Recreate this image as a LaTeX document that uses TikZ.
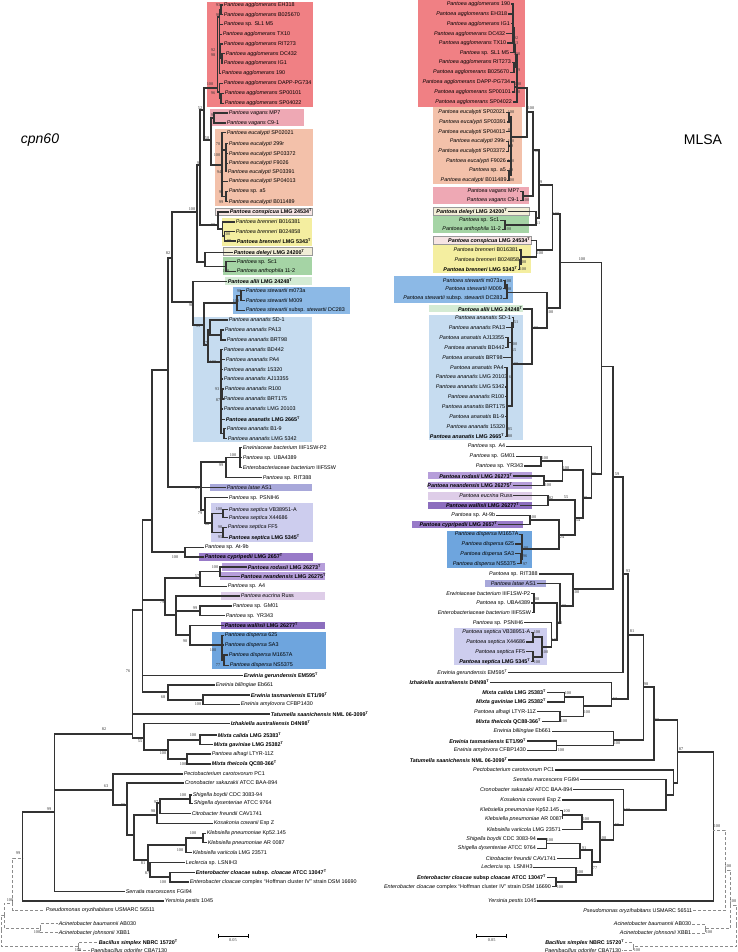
\documentclass[tikz,border=0pt]{standalone}
\usepackage{fontspec}
\setmainfont{Liberation Sans}
\newfontfamily\svfont{Liberation Serif}
\newcommand{\ts}{\textsuperscript{T}}
\newcommand{\Pag}{\textit{Pantoea agglomerans}}
\newcommand{\Pva}{\textit{Pantoea vagans}}
\newcommand{\Peu}{\textit{Pantoea eucalypti}}
\newcommand{\Pbr}{\textit{Pantoea brenneri}}
\newcommand{\Pst}{\textit{Pantoea stewartii}}
\newcommand{\Pan}{\textit{Pantoea ananatis}}
\newcommand{\Pse}{\textit{Pantoea septica}}
\newcommand{\Pdi}{\textit{Pantoea dispersa}}
\newcommand{\Psp}{\textit{Pantoea} sp.}
\newcounter{svc}
\newcommand{\sv}[2]{\stepcounter{svc}\node[sv] (sv\arabic{svc}) at (#1) {#2};}
\definecolor{cAgg}{RGB}{240,128,132}
\definecolor{cVag}{RGB}{238,168,180}
\definecolor{cEuc}{RGB}{243,193,170}
\definecolor{cCon}{RGB}{246,228,228}
\definecolor{cBre}{RGB}{244,238,160}
\definecolor{cDel}{RGB}{242,238,215}
\definecolor{cAnt}{RGB}{165,212,165}
\definecolor{cAll}{RGB}{212,235,212}
\definecolor{cSte}{RGB}{140,185,230}
\definecolor{cAna}{RGB}{198,220,240}
\definecolor{cLat}{RGB}{168,168,218}
\definecolor{cSep}{RGB}{205,205,238}
\definecolor{cCyp}{RGB}{152,122,200}
\definecolor{cRod}{RGB}{182,158,218}
\definecolor{cEcr}{RGB}{222,205,232}
\definecolor{cWal}{RGB}{140,110,190}
\definecolor{cDis}{RGB}{110,165,222}

\begin{document}
\begin{tikzpicture}[x=1pt,y=-1pt]
    \tikzset{
        lf/.style={anchor=west, inner sep=0.6pt, font=\fontsize{5.4}{6}\selectfont},
        rf/.style={anchor=east, inner sep=0.6pt, font=\fontsize{5.4}{6}\selectfont},
        tb/.style={font=\fontsize{5.4}{6}\selectfont\bfseries},
        br/.style={draw=black!80, line width=1.1pt},
        og/.style={draw=black!45, line width=0.8pt, dash pattern=on 3pt off 2pt},
        sv/.style={inner sep=0pt, font=\svfont\fontsize{4.3}{5}\selectfont, text=black!80},
        bxl/.style={draw=black!40, line width=0.4pt},
        ttl/.style={font=\fontsize{14}{16}\selectfont},
    }
    \useasboundingbox (0,0) rectangle (738,952);

    % Boxes, cpn60
    \fill[cAgg] (207,2) rectangle (313,107);
    \fill[cVag] (210,109) rectangle (304,126);
    \fill[cEuc] (215,129) rectangle (313,206);
    \filldraw[cCon,bxl] (215,208) rectangle (312,215.5);
    \fill[cBre] (222,218) rectangle (312,246);
    \filldraw[cDel,bxl] (223,247.5) rectangle (312,255.5);
    \fill[cAnt] (223,257) rectangle (312,275);
    \fill[cAll] (225,277) rectangle (312,285);
    \fill[cSte] (233,287) rectangle (350,314);
    \fill[cAna] (193,316.7) rectangle (312,441.7);
    \fill[cLat] (210,484) rectangle (312,491);
    \fill[cSep] (211,503) rectangle (313,541.7);
    \fill[cCyp] (199,553) rectangle (313,560.5);
    \fill[cRod] (222,563) rectangle (325,570.5);
    \fill[cRod] (220,572) rectangle (325,580);
    \fill[cEcr] (221,592) rectangle (325,600);
    \fill[cWal] (221,621.7) rectangle (325,629);
    \fill[cDis] (212,631.7) rectangle (326,669);

    % Boxes, MLSA
    \fill[cAgg] (417.7,0) rectangle (525,106.7);
    \fill[cEuc] (433,107.3) rectangle (521.7,184.3);
    \fill[cVag] (433,186.7) rectangle (529,204);
    \filldraw[cDel,bxl] (433,206.7) rectangle (529,215);
    \fill[cAnt] (433,216) rectangle (529,233.3);
    \filldraw[cCon,bxl] (433,236) rectangle (530.7,244.3);
    \fill[cBre] (433,245) rectangle (530.7,273.3);
    \fill[cSte] (394,276) rectangle (512.7,302.7);
    \fill[cAll] (429,305) rectangle (523.3,312.3);
    \fill[cAna] (429,315) rectangle (523.3,440);
    \fill[cRod] (428.3,472.3) rectangle (531.7,479.3);
    \fill[cRod] (428.3,481.7) rectangle (531.7,489.3);
    \fill[cEcr] (428.3,491.7) rectangle (531.7,500);
    \fill[cWal] (428.3,502.3) rectangle (531.7,509);
    \fill[cCyp] (411.7,521) rectangle (522.7,528.3);
    \fill[cDis] (446.7,530.7) rectangle (531.7,567.7);
    \fill[cLat] (485,580) rectangle (546,587);
    \fill[cSep] (454,628.3) rectangle (546.7,665.3);

    % Titles
    \node[ttl] (tcpn) at (40,140) {\textit{cpn60}};
    \node[ttl] (tmlsa) at (703,140) {MLSA};

    % Leaves, cpn60
    \node[lf] (L1) at (223,5) {\Pag{} EH318};
    \node[lf] (L2) at (223,14.7) {\Pag{} B025670};
    \node[lf] (L3) at (223,24.3) {\Psp{} SL1 M5};
    \node[lf] (L4) at (222,34.3) {\Pag{} TX10};
    \node[lf] (L5) at (223,44) {\Pag{} RIT273};
    \node[lf] (L6) at (225,53.7) {\Pag{} DC432};
    \node[lf] (L7) at (223,63.3) {\Pag{} IG1};
    \node[lf] (L8) at (221,73.3) {\Pag{} 190};
    \node[lf] (L9) at (223,83.3) {\Pag{} DAPP-PG734};
    \node[lf] (L10) at (224,93.3) {\Pag{} SP00101};
    \node[lf] (L11) at (224,103.3) {\Pag{} SP04022};
    \node[lf] (L12) at (228,113) {\Pva{} MP7};
    \node[lf] (L13) at (226,123) {\Pva{} C9-1};
    \node[lf] (L14) at (226,132.7) {\Peu{} SP02021};
    \node[lf] (L15) at (228,143.7) {\Peu{} 299r};
    \node[lf] (L16) at (228,153.7) {\Peu{} SP03372};
    \node[lf] (L17) at (228,163.3) {\Peu{} F9026};
    \node[lf] (L18) at (227,171.7) {\Peu{} SP03391};
    \node[lf] (L19) at (228,181.3) {\Peu{} SP04013};
    \node[lf] (L20) at (228,191.7) {\Psp{} a5};
    \node[lf] (L21) at (228,201.7) {\Peu{} B011489};
    \node[lf,tb] (L22) at (229,212) {\textit{Pantoea conspicua} LMG 24534\ts};
    \node[lf] (L23) at (235,222) {\Pbr{} B016381};
    \node[lf] (L24) at (235,231.3) {\Pbr{} B024858};
    \node[lf,tb] (L25) at (236,241) {\Pbr{} LMG 5343\ts};
    \node[lf,tb] (L26) at (233,252.3) {\textit{Pantoea deleyi} LMG 24200\ts};
    \node[lf] (L27) at (236,261.7) {\Psp{} Sc1};
    \node[lf] (L28) at (236,271.3) {\textit{Pantoea anthophila} 11-2};
    \node[lf,tb] (L29) at (227,281.7) {\textit{Pantoea allii} LMG 24248\ts};
    \node[lf] (L30) at (245,290.7) {\Pst{} m073a};
    \node[lf] (L31) at (245,300.7) {\Pst{} M009};
    \node[lf] (L32) at (245,310.3) {\Pst{} subsp. \textit{stewartii} DC283};
    \node[lf] (L33) at (228,320) {\Pan{} SD-1};
    \node[lf] (L34) at (224,330) {\Pan{} PA13};
    \node[lf] (L35) at (226,340) {\Pan{} BRT98};
    \node[lf] (L36) at (223,349.7) {\Pan{} BD442};
    \node[lf] (L37) at (225,359.3) {\Pan{} PA4};
    \node[lf] (L38) at (223,369.3) {\Pan{} 15320};
    \node[lf] (L39) at (223,379) {\Pan{} AJ13355};
    \node[lf] (L40) at (224,389) {\Pan{} R100};
    \node[lf] (L41) at (223,399) {\Pan{} BRT175};
    \node[lf] (L42) at (223,409) {\Pan{} LMG 20103};
    \node[lf,tb] (L43) at (225,419.3) {\Pan{} LMG 2665\ts};
    \node[lf] (L44) at (226,428.7) {\Pan{} B1-9};
    \node[lf] (L45) at (227,438.3) {\Pan{} LMG 5342};
    \node[lf] (L46) at (242,447.7) {\textit{Erwiniaceae bacterium} IIIF1SW-P2};
    \node[lf] (L47) at (242,457.7) {\Psp{} UBA4389};
    \node[lf] (L48) at (242,467.7) {\textit{Enterobacteriaceae bacterium} IIIF5SW};
    \node[lf] (L49) at (262,477.7) {\Psp{} RIT388};
    \node[lf] (L50) at (226,487.3) {\textit{Pantoea latae} AS1};
    \node[lf] (L51) at (228,497.7) {\Psp{} PSNIH6};
    \node[lf] (L52) at (228,509.7) {\Pse{} VB38951-A};
    \node[lf] (L53) at (228,517.7) {\Pse{} X44686};
    \node[lf] (L54) at (227,527.3) {\Pse{} FF5};
    \node[lf,tb] (L55) at (228,537.3) {\Pse{} LMG 5345\ts};
    \node[lf] (L56) at (204,547.3) {\Psp{} At-9b};
    \node[lf,tb] (L57) at (204,557) {\textit{Pantoea cypripedii} LMG 2657\ts};
    \node[lf,tb] (L58) at (247,567) {\textit{Pantoea rodasii} LMG 26273\ts};
    \node[lf,tb] (L59) at (240,576.3) {\textit{Pantoea rwandensis} LMG 26275\ts};
    \node[lf] (L60) at (227,586.3) {\Psp{} A4};
    \node[lf] (L61) at (240,596) {\textit{Pantoea eucrina} Russ};
    \node[lf] (L62) at (232,606) {\Psp{} GM01};
    \node[lf] (L63) at (225,615.7) {\Psp{} YR343};
    \node[lf,tb] (L64) at (224,625.3) {\textit{Pantoea wallisii} LMG 26277\ts};
    \node[lf] (L65) at (224,635.3) {\Pdi{} 625};
    \node[lf] (L66) at (224,645) {\Pdi{} SA3};
    \node[lf] (L67) at (228,655) {\Pdi{} M1657A};
    \node[lf] (L68) at (229,665.3) {\Pdi{} NS5375};
    \node[lf,tb] (L69) at (243,675.3) {\textit{Erwinia gerundensis} EM595\ts};
    \node[lf] (L70) at (215,685) {\textit{Erwinia billingiae} Eb661};
    \node[lf,tb] (L71) at (250,695) {\textit{Erwinia tasmaniensis} ET1/99\ts};
    \node[lf] (L72) at (240,704.3) {\textit{Erwinia amylovora} CFBP1430};
    \node[lf,tb] (L73) at (270,714) {\textit{Tatumella saanichensis} NML 06-3099\ts};
    \node[lf,tb] (L74) at (230,723.3) {\textit{Izhakiella australiensis} D4N98\ts};
    \node[lf,tb] (L75) at (217,735) {\textit{Mixta calida} LMG 25383\ts};
    \node[lf,tb] (L76) at (213,744.3) {\textit{Mixta gaviniae} LMG 25382\ts};
    \node[lf] (L77) at (211,754) {\textit{Pantoea alhagi} LTYR-11Z};
    \node[lf,tb] (L78) at (211,764) {\textit{Mixta theicola} QC88-366\ts};
    \node[lf] (L79) at (183,774) {\textit{Pectobacterium carotovorum} PC1};
    \node[lf] (L80) at (184,783) {\textit{Cronobacter sakazakii} ATCC BAA-894};
    \node[lf] (L81) at (192,795) {\textit{Shigella boydii} CDC 3083-94};
    \node[lf] (L82) at (193,803.3) {\textit{Shigella dysenteriae} ATCC 9764};
    \node[lf] (L83) at (191,813.3) {\textit{Citrobacter freundii} CAV1741};
    \node[lf] (L84) at (213,823.3) {\textit{Kosakonia cowanii} Esp Z};
    \node[lf] (L85) at (206,833.3) {\textit{Klebsiella pneumoniae} Kp52.145};
    \node[lf] (L86) at (207,842.7) {\textit{Klebsiella pneumoniae} AR 0087};
    \node[lf] (L87) at (192,852.7) {\textit{Klebsiella variicola} LMG 23571};
    \node[lf] (L88) at (185,862.7) {\textit{Leclercia} sp. LSNIH3};
    \node[lf,tb] (L89) at (195,872.3) {\textit{Enterobacter cloacae} subsp. \textit{cloacae} ATCC 13047\ts};
    \node[lf] (L90) at (189,882) {\textit{Enterobacter cloacae} complex ``Hoffman cluster IV'' strain DSM 16690};
    \node[lf] (L91) at (125,891.3) {\textit{Serratia marcescens} FGI94};
    \node[lf] (L92) at (164,901) {\textit{Yersinia pestis} 1045};
    \node[lf] (L93) at (45,910.3) {\textit{Pseudomonas oryzihabitans} USMARC 56511};
    \node[lf] (L94) at (58,923.7) {\textit{Acinetobacter baumannii} AB030};
    \node[lf] (L95) at (58,932.7) {\textit{Acinetobacter johnsonii} XBB1};
    \node[lf,tb] (L96) at (98,942.3) {\textit{Bacillus simplex} NBRC 15720\ts};
    \node[lf] (L97) at (90,950.7) {\textit{Paenibacillus odorifer} CBA7130};

    % Inner nodes, cpn60
    \coordinate (ag1) at (221,10);
    \coordinate (ag2) at (219.5,17);
    \coordinate (ag3) at (222,58.5);
    \coordinate (ag3p) at (220.5,51);
    \coordinate (ag5) at (221,98);
    \coordinate (ag4) at (219.5,92);
    \coordinate (aggl) at (217.5,88);
    \coordinate (vag) at (214,118);
    \coordinate (eua) at (226,150);
    \coordinate (eub) at (226,196.5);
    \coordinate (eucal) at (222,165);
    \coordinate (VE) at (211,140);
    \coordinate (P52) at (204,110);
    \coordinate (brn2) at (224.5,236);
    \coordinate (brn) at (222.5,229);
    \coordinate (CB) at (218,225);
    \coordinate (P99) at (200,165);
    \coordinate (ant) at (226,266.5);
    \coordinate (Dl) at (205,262);
    \coordinate (P100) at (197,212);
    \coordinate (ste1) at (241,295.7);
    \coordinate (St) at (237,303);
    \coordinate (an1) at (221,335);
    \coordinate (an2) at (210,330);
    \coordinate (an3) at (222.5,394);
    \coordinate (an4) at (224,433.5);
    \coordinate (an5) at (221,362);
    \coordinate (anan) at (208,345);
    \coordinate (SA) at (204,325);
    \coordinate (P98) at (193,302);
    \coordinate (B1) at (172,258);
    \coordinate (E100) at (240,457.7);
    \coordinate (E99) at (226,462);
    \coordinate (se1) at (223,513.7);
    \coordinate (se2) at (223,532.3);
    \coordinate (S68) at (212,523);
    \coordinate (S79) at (205,510);
    \coordinate (N81) at (201,487);
    \coordinate (B2) at (168,370);
    \coordinate (C100) at (185,552);
    \coordinate (B3) at (152,520);
    \coordinate (rr100) at (220,571.7);
    \coordinate (R57) at (200,578);
    \coordinate (G99) at (200,611);
    \coordinate (di1) at (224,660);
    \coordinate (di2) at (222,645);
    \coordinate (W90) at (190,635);
    \coordinate (Xe) at (176,615);
    \coordinate (N79) at (165,600);
    \coordinate (ew100) at (203,700);
    \coordinate (ew68) at (168,692);
    \coordinate (N76) at (142.7,610);
    \coordinate (mxa) at (200,740);
    \coordinate (mxb) at (187,759);
    \coordinate (mix) at (168,750);
    \coordinate (m55) at (144,738);
    \coordinate (N82) at (132.7,734);
    \coordinate (sh) at (190,799);
    \coordinate (l97) at (160,803);
    \coordinate (l98) at (157,815);
    \coordinate (kl1) at (203,838);
    \coordinate (kl2) at (186,845);
    \coordinate (en) at (170,877);
    \coordinate (l87) at (150,870);
    \coordinate (l81) at (148,860);
    \coordinate (ent) at (134,835);
    \coordinate (l80) at (127,805);
    \coordinate (l63) at (113,790);
    \coordinate (lN) at (54.3,812);
    \coordinate (lroot) at (22.7,858);
    \coordinate (lo1) at (12.7,903);
    \coordinate (lac) at (40,928);
    \coordinate (lo2) at (4.3,915);
    \coordinate (lba) at (78,946);
    \coordinate (lo0) at (1,930);

    % Branches, cpn60
    \draw[br] (ag1) |- (L1) (ag1) |- (L2);
    \draw[br] (ag2) |- (ag1) (ag2) |- (L3) (ag2) |- (L4) (ag2) |- (ag3p) (ag2) |- (L8);
    \draw[br] (ag3p) |- (L5) (ag3p) |- (ag3);
    \draw[br] (ag3) |- (L6) (ag3) |- (L7);
    \draw[br] (ag5) |- (L10) (ag5) |- (L11);
    \draw[br] (ag4) |- (L9) (ag4) |- (ag5);
    \draw[br] (aggl) |- (ag2) (aggl) |- (ag4);
    \draw[br] (vag) |- (L12) (vag) |- (L13);
    \draw[br] (eua) |- (L15) (eua) |- (L16) (eua) |- (L17) (eua) |- (L18);
    \draw[br] (eub) |- (L20) (eub) |- (L21);
    \draw[br] (eucal) |- (L14) (eucal) |- (eua) (eucal) |- (L19) (eucal) |- (eub);
    \draw[br] (VE) |- (vag) (VE) |- (eucal);
    \draw[br] (P52) |- (aggl) (P52) |- (VE);
    \draw[br] (brn2) |- (L24) (brn2) |- (L25);
    \draw[br] (brn) |- (L23) (brn) |- (brn2);
    \draw[br] (CB) |- (L22) (CB) |- (brn);
    \draw[br] (P99) |- (P52) (P99) |- (CB);
    \draw[br] (ant) |- (L27) (ant) |- (L28);
    \draw[br] (Dl) |- (L26) (Dl) |- (ant);
    \draw[br] (P100) |- (P99) (P100) |- (Dl);
    \draw[br] (ste1) |- (L30) (ste1) |- (L31);
    \draw[br] (St) |- (ste1) (St) |- (L32);
    \draw[br] (an1) |- (L34) (an1) |- (L35);
    \draw[br] (an2) |- (L33) (an2) |- (an1);
    \draw[br] (an3) |- (L40) (an3) |- (L41);
    \draw[br] (an4) |- (L44) (an4) |- (L45);
    \draw[br] (an5) |- (L36) (an5) |- (L37) (an5) |- (L38) (an5) |- (L39) (an5) |- (an3) (an5) |- (L42) (an5) |- (L43) (an5) |- (an4);
    \draw[br] (anan) |- (an2) (anan) |- (an5);
    \draw[br] (SA) |- (St) (SA) |- (anan);
    \draw[br] (P98) |- (L29) (P98) |- (SA);
    \draw[br] (B1) |- (P100) (B1) |- (P98);
    \draw[br] (E100) |- (L46) (E100) |- (L47) (E100) |- (L48);
    \draw[br] (E99) |- (E100) (E99) |- (L49);
    \draw[br] (se1) |- (L52) (se1) |- (L53);
    \draw[br] (se2) |- (L54) (se2) |- (L55);
    \draw[br] (S68) |- (se1) (S68) |- (se2);
    \draw[br] (S79) |- (L51) (S79) |- (S68);
    \draw[br] (N81) |- (E99) (N81) |- (L50) (N81) |- (S79);
    \draw[br] (B2) |- (B1) (B2) |- (N81);
    \draw[br] (C100) |- (L56) (C100) |- (L57);
    \draw[br] (B3) |- (B2) (B3) |- (C100);
    \draw[br] (rr100) |- (L58) (rr100) |- (L59);
    \draw[br] (R57) |- (rr100) (R57) |- (L60);
    \draw[br] (G99) |- (L62) (G99) |- (L63);
    \draw[br] (di1) |- (L67) (di1) |- (L68);
    \draw[br] (di2) |- (L65) (di2) |- (L66) (di2) |- (di1);
    \draw[br] (W90) |- (L64) (W90) |- (di2);
    \draw[br] (Xe) |- (L61) (Xe) |- (G99) (Xe) |- (W90);
    \draw[br] (N79) |- (R57) (N79) |- (Xe);
    \draw[br] (ew100) |- (L71) (ew100) |- (L72);
    \draw[br] (ew68) |- (L70) (ew68) |- (ew100);
    \draw[br] (N76) |- (B3) (N76) |- (N79) (N76) |- (L69) (N76) |- (ew68);
    \draw[br] (mxa) |- (L75) (mxa) |- (L76);
    \draw[br] (mxb) |- (L77) (mxb) |- (L78);
    \draw[br] (mix) |- (mxa) (mix) |- (mxb);
    \draw[br] (m55) |- (L74) (m55) |- (mix);
    \draw[br] (N82) |- (N76) (N82) |- (L73) (N82) |- (m55);
    \draw[br] (sh) |- (L81) (sh) |- (L82);
    \draw[br] (l97) |- (sh) (l97) |- (L83);
    \draw[br] (l98) |- (l97) (l98) |- (L84);
    \draw[br] (kl1) |- (L85) (kl1) |- (L86);
    \draw[br] (kl2) |- (kl1) (kl2) |- (L87);
    \draw[br] (en) |- (L89) (en) |- (L90);
    \draw[br] (l87) |- (L88) (l87) |- (en);
    \draw[br] (l81) |- (kl2) (l81) |- (l87);
    \draw[br] (ent) |- (l98) (ent) |- (l81);
    \draw[br] (l80) |- (L80) (l80) |- (ent);
    \draw[br] (l63) |- (L79) (l63) |- (l80);
    \draw[br] (lN) |- (N82) (lN) |- (l63) (lN) |- (L91);
    \draw[br] (lroot) |- (lN) (lroot) |- (L92);
    \draw[og] (lo1) |- (lroot) (lo1) |- (L93);
    \draw[og] (lac) |- (L94) (lac) |- (L95);
    \draw[og] (lo2) |- (lo1) (lo2) |- (lac);
    \draw[og] (lba) |- (L96) (lba) |- (L97);
    \draw[og] (lo0) |- (lo2) (lo0) |- (lba);

    % Support values, cpn60
    \sv{218,5}{93} \sv{218,14.7}{98} \sv{213,50}{92} \sv{213,55}{98}
    \sv{210,84}{100} \sv{213,93}{96} \sv{200,108}{52} \sv{213,115}{95}
    \sv{207,138}{58} \sv{218,144}{70} \sv{217,155}{100} \sv{199,163}{99}
    \sv{219,172}{94} \sv{221,191.7}{95} \sv{221,201.7}{99} \sv{192,208.7}{100}
    \sv{213,225}{99} \sv{227,234}{100} \sv{229,241}{99} \sv{168,253}{82}
    \sv{226,271}{100} \sv{239,291}{98} \sv{236,300.7}{100} \sv{191,305}{98}
    \sv{198,325.7}{99} \sv{205,343}{87} \sv{213,362}{100} \sv{217,389}{93}
    \sv{218,400}{87} \sv{233,455}{100} \sv{221,465}{99} \sv{197,488}{81}
    \sv{200,513}{79} \sv{207,524}{68} \sv{219,509}{100} \sv{220,527}{98}
    \sv{220,537}{95} \sv{175,557}{100} \sv{215,567}{100} \sv{197,576}{57}
    \sv{162,601.7}{79} \sv{195,608}{99} \sv{185,641}{90} \sv{213,650}{100}
    \sv{218,665}{77} \sv{128,670.7}{76} \sv{163,697.3}{68} \sv{198,704}{100}
    \sv{104,729}{82} \sv{140,740.7}{55} \sv{193,735}{100} \sv{163,753.3}{100}
    \sv{183,764}{100} \sv{106,786}{63} \sv{123,805}{80} \sv{183,795}{100}
    \sv{156,802.3}{97} \sv{153,810.7}{98} \sv{49,809}{99} \sv{193,833}{100}
    \sv{180,850}{100} \sv{143,862.7}{81} \sv{147,873}{87} \sv{163,882}{100}
    \sv{18,853}{99} \sv{10,900}{100} \sv{37,932}{100} \sv{78,950}{100}

    % Leaves, MLSA
    \node[rf] (R1) at (511,4) {\Pag{} 190};
    \node[rf] (R2) at (508,14) {\Pag{} EH318};
    \node[rf] (R3) at (510.7,23.7) {\Pag{} IG1};
    \node[rf] (R4) at (506,33.7) {\Pag{} DC432};
    \node[rf] (R5) at (507,43) {\Pag{} TX10};
    \node[rf] (R6) at (510,52.7) {\Psp{} SL1 M5};
    \node[rf] (R7) at (511.7,62.3) {\Pag{} RIT273};
    \node[rf] (R8) at (510,72.3) {\Pag{} B025670};
    \node[rf] (R9) at (511,82) {\Pag{} DAPP-PG734};
    \node[rf] (R10) at (511.7,92) {\Pag{} SP00101};
    \node[rf] (R11) at (512.7,102) {\Pag{} SP04022};
    \node[rf] (R12) at (506,112.3) {\Peu{} SP02021};
    \node[rf] (R13) at (506.7,122) {\Peu{} SP03391};
    \node[rf] (R14) at (506,131.7) {\Peu{} SP04013};
    \node[rf] (R15) at (506,141.3) {\Peu{} 299r};
    \node[rf] (R16) at (506,151.3) {\Peu{} SP03372};
    \node[rf] (R17) at (506.7,161) {\Peu{} F9026};
    \node[rf] (R18) at (506.7,170.7) {\Psp{} a5};
    \node[rf] (R19) at (507.3,180.3) {\Peu{} B011489};
    \node[rf] (R20) at (520,191.5) {\Pva{} MP7};
    \node[rf] (R21) at (520,200.3) {\Pva{} C9-1};
    \node[rf,tb] (R22) at (508,211.3) {\textit{Pantoea deleyi} LMG 24200\ts};
    \node[rf] (R23) at (500,220.5) {\Psp{} Sc1};
    \node[rf] (R24) at (501.7,229.5) {\textit{Pantoea anthophila} 11-2};
    \node[rf,tb] (R25) at (531,240.3) {\textit{Pantoea conspicua} LMG 24534\ts};
    \node[rf] (R26) at (519,250) {\Pbr{} B016381};
    \node[rf] (R27) at (520,259.3) {\Pbr{} B024858};
    \node[rf,tb] (R28) at (518.3,269.3) {\Pbr{} LMG 5343\ts};
    \node[rf] (R29) at (503.3,280.7) {\Pst{} m073a};
    \node[rf] (R30) at (502.7,288.7) {\Pst{} M009};
    \node[rf] (R31) at (503.3,298.3) {\Pst{} subsp. \textit{stewartii} DC283};
    \node[rf,tb] (R32) at (523.3,309) {\textit{Pantoea allii} LMG 24248\ts};
    \node[rf] (R33) at (511.7,317.7) {\Pan{} SD-1};
    \node[rf] (R34) at (506,327.7) {\Pan{} PA13};
    \node[rf] (R35) at (505,337.7) {\Pan{} AJ13355};
    \node[rf] (R36) at (505.3,347.3) {\Pan{} BD442};
    \node[rf] (R37) at (503.3,357.3) {\Pan{} BRT98};
    \node[rf] (R38) at (504.3,367.3) {\Pan{} PA4};
    \node[rf] (R39) at (508.3,377) {\Pan{} LMG 20103};
    \node[rf] (R40) at (505.3,387) {\Pan{} LMG 5342};
    \node[rf] (R41) at (505,396.7) {\Pan{} R100};
    \node[rf] (R42) at (506,406.7) {\Pan{} BRT175};
    \node[rf] (R43) at (505,416.3) {\Pan{} B1-9};
    \node[rf] (R44) at (506,426.3) {\Pan{} 15320};
    \node[rf,tb] (R45) at (505,436.3) {\Pan{} LMG 2665\ts};
    \node[rf] (R46) at (506,446.3) {\Psp{} A4};
    \node[rf] (R47) at (516,456.3) {\Psp{} GM01};
    \node[rf] (R48) at (524,466) {\Psp{} YR343};
    \node[rf,tb] (R49) at (513.3,476) {\textit{Pantoea rodasii} LMG 26273\ts};
    \node[rf,tb] (R50) at (513.3,485.7) {\textit{Pantoea rwandensis} LMG 26275\ts};
    \node[rf] (R51) at (513.3,495.3) {\textit{Pantoea eucrina} Russ};
    \node[rf,tb] (R52) at (520,505.7) {\textit{Pantoea wallisii} LMG 26277\ts};
    \node[rf] (R53) at (496,515.3) {\Psp{} At-9b};
    \node[rf,tb] (R54) at (498.3,524.7) {\textit{Pantoea cypripedii} LMG 2657\ts};
    \node[rf] (R55) at (519.3,534.3) {\Pdi{} M1657A};
    \node[rf] (R56) at (515,544) {\Pdi{} 625};
    \node[rf] (R57) at (515,553.7) {\Pdi{} SA3};
    \node[rf] (R58) at (516.7,563.7) {\Pdi{} NS5375};
    \node[rf] (R59) at (538.5,574) {\Psp{} RIT388};
    \node[rf] (R60) at (536.7,583.7) {\textit{Pantoea latae} AS1};
    \node[rf] (R61) at (531,593.3) {\textit{Erwiniaceae bacterium} IIIF1SW-P2};
    \node[rf] (R62) at (531,603) {\Psp{} UBA4389};
    \node[rf] (R63) at (531.7,612.7) {\textit{Enterobacteriaceae bacterium} IIIF5SW};
    \node[rf] (R64) at (524,622.7) {\Psp{} PSNIH6};
    \node[rf] (R65) at (531,632.3) {\Pse{} VB38951-A};
    \node[rf] (R66) at (526,642) {\Pse{} X44686};
    \node[rf] (R67) at (526,651.7) {\Pse{} FF5};
    \node[rf,tb] (R68) at (531,661.7) {\Pse{} LMG 5345\ts};
    \node[rf] (R69) at (508.3,672.3) {\textit{Erwinia gerundensis} EM595\ts};
    \node[rf,tb] (R70) at (490,682.7) {\textit{Izhakiella australiensis} D4N98\ts};
    \node[rf,tb] (R71) at (546.7,692.7) {\textit{Mixta calida} LMG 25383\ts};
    \node[rf,tb] (R72) at (546.7,702) {\textit{Mixta gaviniae} LMG 25382\ts};
    \node[rf] (R73) at (536.7,711.7) {\textit{Pantoea alhagi} LTYR-11Z};
    \node[rf,tb] (R74) at (541.7,721.3) {\textit{Mixta theicola} QC88-366\ts};
    \node[rf] (R75) at (551.7,731.3) {\textit{Erwinia billingiae} Eb661};
    \node[rf,tb] (R76) at (526.7,741) {\textit{Erwinia tasmaniensis} ET1/99\ts};
    \node[rf] (R77) at (526.7,750.3) {\textit{Erwinia amylovora} CFBP1430};
    \node[rf,tb] (R78) at (508.3,760) {\textit{Tatumella saanichensis} NML 06-3099\ts};
    \node[rf] (R79) at (555,770) {\textit{Pectobacterium carotovorum} PC1};
    \node[rf] (R80) at (580,779.3) {\textit{Serratia marcescens} FGI94};
    \node[rf] (R81) at (573.3,789.7) {\textit{Cronobacter sakazakii} ATCC BAA-894};
    \node[rf] (R82) at (561.7,800) {\textit{Kosakonia cowanii} Esp Z};
    \node[rf] (R83) at (560,810.3) {\textit{Klebsiella pneumoniae} Kp52.145};
    \node[rf] (R84) at (562.7,819.3) {\textit{Klebsiella pneumoniae} AR 0087};
    \node[rf] (R85) at (561.7,829.3) {\textit{Klebsiella variicola} LMG 23571};
    \node[rf] (R86) at (536.7,839) {\textit{Shigella boydii} CDC 3083-94};
    \node[rf] (R87) at (536.7,848.3) {\textit{Shigella dysenteriae} ATCC 9764};
    \node[rf] (R88) at (556.7,858.7) {\textit{Citrobacter freundii} CAV1741};
    \node[rf] (R89) at (533.3,867.3) {\textit{Leclercia} sp. LSNIH3};
    \node[rf,tb] (R90) at (546.7,877.7) {\textit{Enterobacter cloacae} subsp \textit{cloacae} ATCC 13047\ts};
    \node[rf] (R91) at (551.7,886.7) {\textit{Enterobacter cloacae} complex ``Hoffman cluster IV'' strain DSM 16690};
    \node[rf] (R92) at (537.3,901) {\textit{Yersinia pestis} 1045};
    \node[rf] (R93) at (693,910.7) {\textit{Pseudomonas oryzihabitans} USMARC 56511};
    \node[rf] (R94) at (692,924) {\textit{Acinetobacter baumannii} AB030};
    \node[rf] (R95) at (692,933) {\textit{Acinetobacter johnsonii} XBB1};
    \node[rf,tb] (R96) at (625,942.3) {\textit{Bacillus simplex} NBRC 15720\ts};
    \node[rf] (R97) at (622,950.7) {\textit{Paenibacillus odorifer} CBA7130};

    % Inner nodes, MLSA
    \coordinate (ra1) at (513,28);
    \coordinate (ra2) at (514,45);
    \coordinate (ra3) at (514,67);
    \coordinate (ra4) at (515.5,55);
    \coordinate (ra5) at (514.5,87);
    \coordinate (ragg) at (517,88);
    \coordinate (re1) at (509,117);
    \coordinate (re2) at (508.5,146);
    \coordinate (re3) at (509,175.5);
    \coordinate (reu) at (511,137);
    \coordinate (rAE) at (527,112);
    \coordinate (rvag) at (523,196);
    \coordinate (rV) at (533,150);
    \coordinate (rsa) at (505,225);
    \coordinate (rDA) at (536,218);
    \coordinate (rVD) at (539,185);
    \coordinate (rbr2) at (519.5,264);
    \coordinate (rbr) at (521,257);
    \coordinate (rCB) at (536.7,250);
    \coordinate (rX2) at (552.7,214);
    \coordinate (rst1) at (505,284.7);
    \coordinate (rst) at (507,292.7);
    \coordinate (ran1) at (513.5,322.7);
    \coordinate (ran2) at (508,342.5);
    \coordinate (ran3) at (507,406);
    \coordinate (ran) at (512,364);
    \coordinate (rAA) at (532,328);
    \coordinate (rSAA) at (547,308);
    \coordinate (rX3) at (560,262.7);
    \coordinate (rG) at (541,461);
    \coordinate (rRR) at (544,481);
    \coordinate (rGRR) at (562.7,470);
    \coordinate (rEW) at (548,500);
    \coordinate (rC) at (530,520);
    \coordinate (rdis2) at (521,559);
    \coordinate (rdis) at (522,549);
    \coordinate (r24) at (559,535);
    \coordinate (r54) at (575,518);
    \coordinate (r89) at (583,498);
    \coordinate (r99) at (591.7,474);
    \coordinate (rU) at (601.7,366.7);
    \coordinate (rE) at (534,603);
    \coordinate (rs1) at (533,637);
    \coordinate (rs2) at (533,657);
    \coordinate (rsep) at (542,647);
    \coordinate (rP) at (551.7,640);
    \coordinate (r70) at (557,623);
    \coordinate (rL) at (560,606);
    \coordinate (rR) at (573,589);
    \coordinate (rW) at (613,477);
    \coordinate (r93) at (623,574);
    \coordinate (rMa) at (564.3,697);
    \coordinate (rMb) at (560,716.5);
    \coordinate (rMix) at (583.3,706);
    \coordinate (rM52) at (611.7,699);
    \coordinate (r629) at (628,635);
    \coordinate (rEr1) at (556.7,745.5);
    \coordinate (rEr) at (613.3,740);
    \coordinate (r98) at (643.3,687);
    \coordinate (r99b) at (654,720);
    \coordinate (rK1) at (562.7,815);
    \coordinate (rK2) at (582,822);
    \coordinate (rSh) at (546.7,843.7);
    \coordinate (rSC) at (580,850);
    \coordinate (rEn) at (556,882);
    \coordinate (rLE) at (576,875);
    \coordinate (r77) at (592,862);
    \coordinate (rKl) at (600,840);
    \coordinate (rKo) at (613.3,825);
    \coordinate (rCr) at (623.3,810);
    \coordinate (rSe) at (666,795);
    \coordinate (rPC) at (673.3,783);
    \coordinate (r87) at (677.7,752);
    \coordinate (rin) at (713.3,830);
    \coordinate (ro1) at (725,870);
    \coordinate (rac) at (705,928.5);
    \coordinate (ro2) at (730,905);
    \coordinate (rba) at (633,946.5);
    \coordinate (ro0) at (736,925);

    % Branches, MLSA
    \draw[br] (ra1) |- (R1) (ra1) |- (R2) (ra1) |- (R3) (ra1) |- (R4) (ra1) |- (R5);
    \draw[br] (ra2) |- (ra1) (ra2) |- (R6);
    \draw[br] (ra3) |- (R7) (ra3) |- (R8);
    \draw[br] (ra4) |- (ra2) (ra4) |- (ra3);
    \draw[br] (ra5) |- (R9) (ra5) |- (R10);
    \draw[br] (ragg) |- (ra4) (ragg) |- (ra5) (ragg) |- (R11);
    \draw[br] (re1) |- (R12) (re1) |- (R13);
    \draw[br] (re2) |- (R15) (re2) |- (R16);
    \draw[br] (re3) |- (R18) (re3) |- (R19);
    \draw[br] (reu) |- (re1) (reu) |- (R14) (reu) |- (re2) (reu) |- (R17) (reu) |- (re3);
    \draw[br] (rAE) |- (ragg) (rAE) |- (reu);
    \draw[br] (rvag) |- (R20) (rvag) |- (R21);
    \draw[br] (rV) |- (rAE) (rV) |- (rvag);
    \draw[br] (rsa) |- (R23) (rsa) |- (R24);
    \draw[br] (rDA) |- (R22) (rDA) |- (rsa);
    \draw[br] (rVD) |- (rV) (rVD) |- (rDA);
    \draw[br] (rbr2) |- (R27) (rbr2) |- (R28);
    \draw[br] (rbr) |- (R26) (rbr) |- (rbr2);
    \draw[br] (rCB) |- (R25) (rCB) |- (rbr);
    \draw[br] (rX2) |- (rVD) (rX2) |- (rCB);
    \draw[br] (rst1) |- (R29) (rst1) |- (R30);
    \draw[br] (rst) |- (rst1) (rst) |- (R31);
    \draw[br] (ran1) |- (R33) (ran1) |- (R34);
    \draw[br] (ran2) |- (R35) (ran2) |- (R36);
    \draw[br] (ran3) |- (R38) (ran3) |- (R39) (ran3) |- (R40) (ran3) |- (R41) (ran3) |- (R42) (ran3) |- (R43) (ran3) |- (R44) (ran3) |- (R45);
    \draw[br] (ran) |- (ran1) (ran) |- (ran2) (ran) |- (R37) (ran) |- (ran3);
    \draw[br] (rAA) |- (R32) (rAA) |- (ran);
    \draw[br] (rSAA) |- (rst) (rSAA) |- (rAA);
    \draw[br] (rX3) |- (rX2) (rX3) |- (rSAA);
    \draw[br] (rG) |- (R47) (rG) |- (R48);
    \draw[br] (rRR) |- (R49) (rRR) |- (R50);
    \draw[br] (rGRR) |- (rG) (rGRR) |- (rRR);
    \draw[br] (rEW) |- (R51) (rEW) |- (R52);
    \draw[br] (rC) |- (R53) (rC) |- (R54);
    \draw[br] (rdis2) |- (R57) (rdis2) |- (R58);
    \draw[br] (rdis) |- (R55) (rdis) |- (R56) (rdis) |- (rdis2);
    \draw[br] (r24) |- (rC) (r24) |- (rdis);
    \draw[br] (r54) |- (rEW) (r54) |- (r24);
    \draw[br] (r89) |- (rGRR) (r89) |- (r54);
    \draw[br] (r99) |- (R46) (r99) |- (r89);
    \draw[br] (rU) |- (rX3) (rU) |- (r99);
    \draw[br] (rE) |- (R61) (rE) |- (R62) (rE) |- (R63);
    \draw[br] (rs1) |- (R65) (rs1) |- (R66);
    \draw[br] (rs2) |- (R67) (rs2) |- (R68);
    \draw[br] (rsep) |- (rs1) (rsep) |- (rs2);
    \draw[br] (rP) |- (R64) (rP) |- (rsep);
    \draw[br] (r70) |- (rE) (r70) |- (rP);
    \draw[br] (rL) |- (R60) (rL) |- (r70);
    \draw[br] (rR) |- (R59) (rR) |- (rL);
    \draw[br] (rW) |- (rU) (rW) |- (rR);
    \draw[br] (r93) |- (rW) (r93) |- (R69);
    \draw[br] (rMa) |- (R71) (rMa) |- (R72);
    \draw[br] (rMb) |- (R73) (rMb) |- (R74);
    \draw[br] (rMix) |- (rMa) (rMix) |- (rMb);
    \draw[br] (rM52) |- (R70) (rM52) |- (rMix);
    \draw[br] (r629) |- (r93) (r629) |- (rM52);
    \draw[br] (rEr1) |- (R76) (rEr1) |- (R77);
    \draw[br] (rEr) |- (R75) (rEr) |- (rEr1);
    \draw[br] (r98) |- (r629) (r98) |- (rEr);
    \draw[br] (r99b) |- (r98) (r99b) |- (R78);
    \draw[br] (rK1) |- (R83) (rK1) |- (R84);
    \draw[br] (rK2) |- (rK1) (rK2) |- (R85);
    \draw[br] (rSh) |- (R86) (rSh) |- (R87);
    \draw[br] (rSC) |- (rSh) (rSC) |- (R88);
    \draw[br] (rEn) |- (R90) (rEn) |- (R91);
    \draw[br] (rLE) |- (R89) (rLE) |- (rEn);
    \draw[br] (r77) |- (rSC) (r77) |- (rLE);
    \draw[br] (rKl) |- (rK2) (rKl) |- (r77);
    \draw[br] (rKo) |- (R82) (rKo) |- (rKl);
    \draw[br] (rCr) |- (R81) (rCr) |- (rKo);
    \draw[br] (rSe) |- (R80) (rSe) |- (rCr);
    \draw[br] (rPC) |- (R79) (rPC) |- (rSe);
    \draw[br] (r87) |- (r99b) (r87) |- (rPC);
    \draw[br] (rin) |- (r87) (rin) |- (R92);
    \draw[og] (ro1) |- (rin) (ro1) |- (R93);
    \draw[og] (rac) |- (R94) (rac) |- (R95);
    \draw[og] (ro2) |- (ro1) (ro2) |- (rac);
    \draw[og] (rba) |- (R96) (rba) |- (R97);
    \draw[og] (ro0) |- (ro2) (ro0) |- (rba);

    % Support values, MLSA
    \sv{516,38}{92} \sv{516,43}{53} \sv{517,54}{100} \sv{518,69.7}{79}
    \sv{518,84}{100} \sv{517,92}{100} \sv{531,108}{100} \sv{511,112}{100}
    \sv{510,130}{87} \sv{511,141}{100} \sv{511,146}{99} \sv{511,161}{100}
    \sv{536,150.7}{100} \sv{511,170}{99} \sv{511,180}{100} \sv{540,182.3}{99}
    \sv{526,200}{100} \sv{508,229}{100} \sv{538,222.7}{51} \sv{556,214.3}{100}
    \sv{540,253.3}{100} \sv{523,262}{100} \sv{523,269}{100} \sv{582,259.3}{100}
    \sv{508,281}{100} \sv{508,289}{100} \sv{550,311.7}{100} \sv{516,322}{51}
    \sv{535,328.3}{100} \sv{514,344}{100} \sv{514,350}{55} \sv{515,364.3}{100}
    \sv{511,377}{68} \sv{510,428.7}{85} \sv{510,436}{80} \sv{545,457.7}{100}
    \sv{548,485}{100} \sv{566,467.7}{100} \sv{594,474.3}{99} \sv{617,474.3}{59}
    \sv{566,497.3}{55} \sv{585,498.3}{89} \sv{551,498.3}{82} \sv{533,516.7}{100}
    \sv{578,520}{54} \sv{562,536.7}{24} \sv{525,547.7}{100} \sv{525,556}{96}
    \sv{525,564.3}{97} \sv{628,571}{93} \sv{576,592.3}{100} \sv{536,599.3}{100}
    \sv{563,606}{100} \sv{560,623.3}{70} \sv{537,632.3}{100} \sv{555,640}{100}
    \sv{545,651.7}{100} \sv{537,661.7}{100} \sv{632,631}{81} \sv{615,699.3}{52}
    \sv{568,693.3}{100} \sv{587,711.7}{100} \sv{564,721}{100} \sv{646,684}{98}
    \sv{657,720}{99} \sv{617,743.3}{100} \sv{561,750}{100} \sv{681,749.3}{87}
    \sv{627,810}{100} \sv{617,825}{55} \sv{566.7,811}{100} \sv{586,819.3}{100}
    \sv{550,840}{100} \sv{584,848.3}{91} \sv{603,838}{100} \sv{595,868.3}{77}
    \sv{580,872}{100} \sv{560,886.7}{100} \sv{717,826}{100} \sv{728,866}{100}
    \sv{733,901}{100} \sv{709,932}{100} \sv{637,950}{100}

    % Scale bars
    \coordinate (sbl1) at (218,936);
    \coordinate (sbl2) at (248,936);
    \draw[line width=0.7pt] (sbl1) -- (sbl2);
    \draw[line width=0.5pt] ([yshift=-2pt]sbl1) -- ([yshift=2pt]sbl1) ([yshift=-2pt]sbl2) -- ([yshift=2pt]sbl2);
    \node[sv] (sbt1) at (233,940.5) {0.05};
    \coordinate (sbr1) at (476.7,936);
    \coordinate (sbr2) at (506.7,936);
    \draw[line width=0.7pt] (sbr1) -- (sbr2);
    \draw[line width=0.5pt] ([yshift=-2pt]sbr1) -- ([yshift=2pt]sbr1) ([yshift=-2pt]sbr2) -- ([yshift=2pt]sbr2);
    \node[sv] (sbt2) at (491.7,940.5) {0.05};
\end{tikzpicture}
\end{document}
